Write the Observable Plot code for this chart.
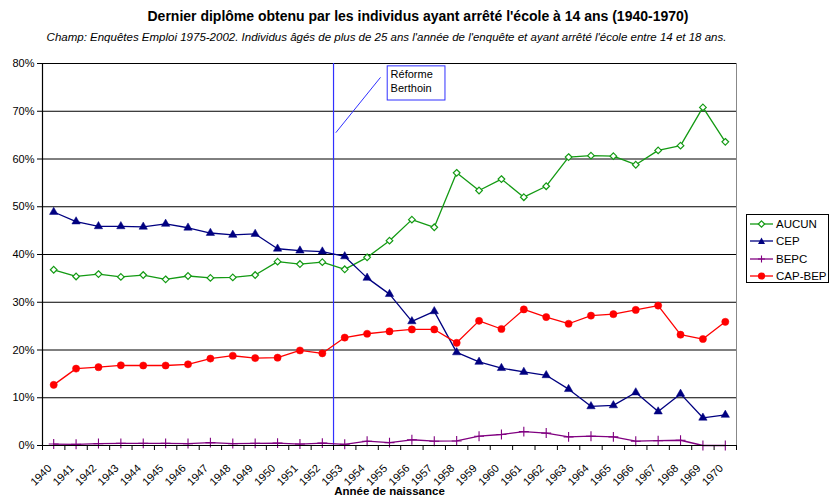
<!DOCTYPE html>
<html><head><meta charset="utf-8">
<script src="https://cdn.jsdelivr.net/npm/d3@7"></script>
<script src="https://cdn.jsdelivr.net/npm/@observablehq/plot@0.6"></script>
<style>
body{margin:0;background:#fff;font-family:"Liberation Sans",Arial,sans-serif;}
#wrap{position:relative;width:830px;height:499px;overflow:hidden;background:#fff;}
#title{position:absolute;top:8px;left:0;width:836px;text-align:center;font-weight:bold;font-size:14px;color:#000;white-space:nowrap;}
#subtitle{position:absolute;top:31px;left:0;width:773px;text-align:center;font-style:italic;font-size:11.5px;color:#000;white-space:nowrap;}
#chart{position:absolute;top:48px;left:0;}
#legend{position:absolute;left:746px;top:214px;width:83px;height:69px;border:1px solid #000;background:#fff;box-sizing:border-box;}
.lrow{position:absolute;left:0;height:16px;display:flex;align-items:center;font-size:11.5px;color:#000;}
.lrow svg{margin-left:3px;margin-right:3px;}
</style>
</head><body>
<div id="wrap">
  <div id="title">Dernier diplôme obtenu par les individus ayant arrêté l'école à 14 ans (1940-1970)</div>
  <div id="subtitle">Champ: Enquêtes Emploi 1975-2002. Individus âgés de plus de 25 ans l'année de l'enquête et ayant arrêté l'école entre 14 et 18 ans.</div>
  <div id="chart"></div>
  <div id="legend"></div>
</div>
<script>
// Categories: birth years
const years = [1940,1941,1942,1943,1944,1945,1946,1947,1948,1949,1950,1951,1952,1953,1954,1955,1956,1957,1958,1959,1960,1961,1962,1963,1964,1965,1966,1967,1968,1969,1970];
// Series values (%)
const aucun  = [36.8,35.4,35.9,35.3,35.7,34.8,35.5,35.1,35.2,35.7,38.5,38.0,38.4,36.9,39.4,42.9,47.3,45.7,57.1,53.4,55.8,52.0,54.3,60.4,60.7,60.6,58.8,61.8,62.8,70.8,63.6];
const cep    = [48.9,46.9,45.9,45.9,45.8,46.4,45.6,44.5,44.1,44.3,41.2,40.8,40.6,39.6,35.1,31.7,26.0,28.1,19.5,17.5,16.2,15.4,14.7,11.8,8.2,8.4,11.1,7.1,10.8,5.8,6.4];
const bepc   = [0.3,0.25,0.4,0.45,0.45,0.45,0.4,0.6,0.4,0.45,0.5,0.3,0.5,0.25,0.9,0.6,1.2,0.9,0.95,1.95,2.3,2.9,2.6,1.8,1.95,1.8,0.9,1.0,1.1,0.0,0.0];
const capbep = [12.7,16.1,16.4,16.8,16.75,16.75,17.0,18.2,18.8,18.3,18.4,19.9,19.3,22.6,23.4,23.9,24.3,24.3,21.5,26.1,24.4,28.5,26.9,25.5,27.2,27.5,28.4,29.3,23.2,22.3,25.9];
const seriesNames = ["AUCUN","CEP","BEPC","CAP-BEP"];
const seriesColors = ["#139a13","#000080","#800080","#ff0000"];
// Tick values
const yTicks = [0,10,20,30,40,50,60,70,80];
const xBoundaries = [1940,1941,1942,1943,1944,1945,1946,1947,1948,1949,1950,1951,1952,1953,1954,1955,1956,1957,1958,1959,1960,1961,1962,1963,1964,1965,1966,1967,1968,1969,1970,1971];
const xTitle = "Année de naissance";
// Annotation (Réforme Berthoin)
const reformYear = [1953];
const noteText = ["Réforme\nBerthoin"];

const allValues = [aucun, cep, bepc, capbep];
const rows = [];
seriesNames.forEach((s, i) => years.forEach((y, j) => rows.push({serie: s, year: y, value: allValues[i][j]})));
const bySerie = s => rows.filter(r => r.serie === s);
const cx = d => d.year + 0.5;

const markerStyles = {
  "AUCUN":   {symbol: "diamond2", r: 3.0, fill: "white", stroke: "#139a13", strokeWidth: 1.2},
  "CEP":     {symbol: "triangle", r: 3.1, fill: "#000080", stroke: "#000080", strokeWidth: 0.5},
  "BEPC":    {symbol: "plus", r: 3.3, fill: "none", stroke: "#800080", strokeWidth: 1.1},
  "CAP-BEP": {symbol: "circle", r: 3.6, fill: "#ff0000", stroke: "#ff0000", strokeWidth: 0.5}
};

const seriesMarks = [];
seriesNames.forEach((s, i) => {
  seriesMarks.push(Plot.line(bySerie(s), {x: cx, y: "value", stroke: seriesColors[i], strokeWidth: 1.3}));
  seriesMarks.push(Plot.dot(bySerie(s), {x: cx, y: "value", ...markerStyles[s]}));
});

const chart = Plot.plot({
  width: 830,
  height: 451,
  marginLeft: 42,
  marginRight: 94,
  marginTop: 15,
  marginBottom: 54,
  style: {fontFamily: "'Liberation Sans', Arial, sans-serif", fontSize: "11px", color: "#000", background: "white"},
  x: {type: "linear", domain: [1940, 1971], axis: null},
  y: {domain: [0, 80], axis: null},
  marks: [
    Plot.ruleY(yTicks, {stroke: "#000", strokeWidth: 1}),
    Plot.ruleX([1971], {stroke: "#888", strokeWidth: 1}),
    Plot.axisY({ticks: yTicks, tickFormat: d => d + "%", tickSize: 5, tickPadding: 3, fontSize: 11, stroke: "#000"}),
    Plot.axisX({ticks: xBoundaries, tickFormat: () => "", tickSize: 5, stroke: "#000"}),
    Plot.text(years, {x: d => d + 0.5, frameAnchor: "bottom", text: d => String(d), rotate: -45, textAnchor: "end", lineAnchor: "top", dy: 18, dx: -7, fontSize: 11, fill: "#000"}),
    Plot.text([xTitle], {frameAnchor: "bottom", x: 1955.5, dy: 41, lineAnchor: "top", fontWeight: "bold", fontSize: 11.5, fill: "#000"}),
    Plot.ruleX(reformYear, {stroke: "#3030ff", strokeWidth: 1.2}),
    Plot.link([{x1: 1953.1, y1: 65.5, x2: 1955.1, y2: 77.1}], {x1: "x1", y1: "y1", x2: "x2", y2: "y2", stroke: "#3030ff", strokeWidth: 1}),
    Plot.rect([{x1: 1955.42, x2: 1958.0, y1: 72.25, y2: 79.4}], {x1: "x1", x2: "x2", y1: "y1", y2: "y2", fill: "white", stroke: "#3030ff", strokeWidth: 1}),
    Plot.text(noteText, {x: 1955.55, y: 79.0, text: d => d, textAnchor: "start", lineAnchor: "top", lineHeight: 1.25, fontSize: 11, fill: "#000"}),
    ...seriesMarks,
    Plot.ruleY([0], {stroke: "#000", strokeWidth: 1.2}),
    Plot.ruleX([1940], {stroke: "#000", strokeWidth: 1.2})
  ]
});
document.getElementById("chart").appendChild(chart);

// Legend
const legend = document.getElementById("legend");
const symPaths = {
  "AUCUN": '<path d="M11.5,1.8 L14.7,5 L11.5,8.2 L8.3,5 Z" fill="white" stroke="#139a13" stroke-width="1.2"/>',
  "CEP": '<path d="M11.5,1.5 L15,8 L8,8 Z" fill="#000080"/>',
  "BEPC": '<path d="M11.5,1.5 V8.5 M8,5 H15" stroke="#800080" stroke-width="1.1"/>',
  "CAP-BEP": '<circle cx="11.5" cy="5" r="3.6" fill="#ff0000"/>'
};
seriesNames.forEach((s, i) => {
  const row = document.createElement("div");
  row.className = "lrow";
  row.style.top = (1 + i * 17.3) + "px";
  row.innerHTML = `<svg width="23" height="10"><line x1="0" x2="23" y1="5" y2="5" stroke="${seriesColors[i]}" stroke-width="1.3"/>${symPaths[s]}</svg><span>${s}</span>`;
  legend.appendChild(row);
});
</script>
</body></html>
